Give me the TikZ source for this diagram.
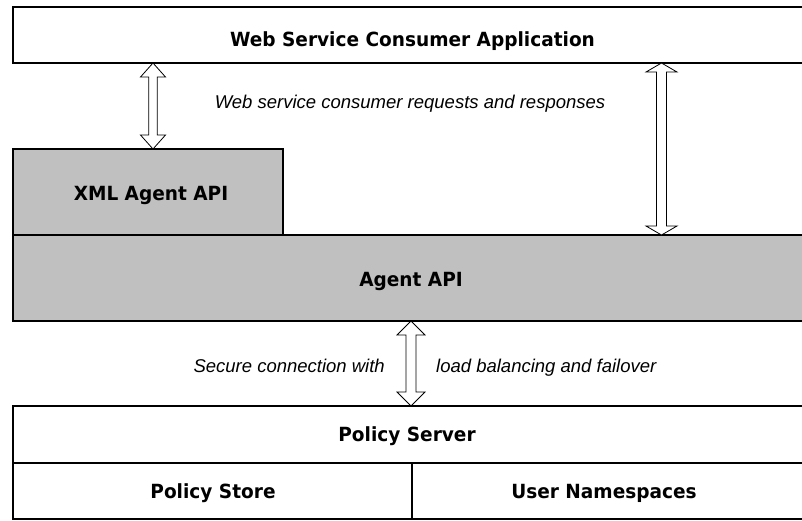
\documentclass[tikz,border=0pt]{standalone}
\usepackage{fontspec}
\usetikzlibrary{calc}
\newfontfamily\boxfont[FakeStretch=0.95]{DejaVu Sans}
\newfontfamily\labfont{Liberation Sans}
\definecolor{boxgray}{HTML}{C0C0C0}
\newcommand\dblarr[5]{%
\draw[arrsty] let \p1=(#1), \p2=(#2) in
 (\x1,\y1) -- (\x1+#4,\y1-#5) -- (\x1+#3,\y1-#5) -- (\x1+#3,\y2+#5) -- (\x1+#4,\y2+#5) -- (\x1,\y2)
 -- (\x1-#4,\y2+#5) -- (\x1-#3,\y2+#5) -- (\x1-#3,\y1-#5) -- (\x1-#4,\y1-#5) -- cycle;}
\begin{document}
\begin{tikzpicture}[x=1pt,y=-1pt,
  boxsty/.style={draw=black, line width=1.6pt, fill=white, rectangle, inner sep=0pt, outer sep=0pt, anchor=north west},
  graybox/.style={boxsty, fill=boxgray},
  boxtext/.style={font=\boxfont\bfseries\fontsize{19.5}{21}\selectfont, inner sep=0pt},
  labtext/.style={font=\labfont\itshape\fontsize{18.5}{20}\selectfont, inner sep=0pt},
  arrsty/.style={draw=black, line width=0.8pt, fill=white, line join=miter}]
\useasboundingbox (0,0) rectangle (802,520);
\clip (0,0) rectangle (802,520);
% boxes
\node[boxsty, minimum width=799pt, minimum height=56pt] (web) at (13,7) {};
\node[graybox, minimum width=270pt, minimum height=86pt] (xml) at (13,149) {};
\node[graybox, minimum width=799pt, minimum height=86pt] (agent) at (13,235) {};
\node[boxsty, minimum width=799pt, minimum height=57pt] (ps) at (13,406) {};
\node[boxsty, minimum width=399pt, minimum height=56pt] (store) at (13,463) {};
\node[boxsty, minimum width=400pt, minimum height=56pt] (user) at (412,463) {};
% texts
\node[boxtext, anchor=base] (tweb) at (412.5,46) {Web Service Consumer Application};
\node[boxtext, anchor=base] (txml) at (151,200) {XML Agent API};
\node[boxtext, anchor=base] (tagent) at (411,286) {Agent API};
\node[boxtext, anchor=base] (tps) at (407,441) {Policy Server};
\node[boxtext, anchor=base] (tstore) at (213,498) {Policy Store};
\node[boxtext, anchor=base] (tuser) at (604,498) {User Namespaces};
\node[labtext, anchor=base] (l1) at (410,108) {Web service consumer requests and responses};
\node[labtext, anchor=base east] (l2) at (385,372) {Secure connection with};
\node[labtext, anchor=base west] (l3) at (436,372) {load balancing and failover};
% arrows
\coordinate (x1) at (153,0);
\coordinate (x2) at (661.5,0);
\coordinate (x3) at (411,0);
\dblarr{web.south -| x1}{xml.north -| x1}{4.2pt}{12.5pt}{14pt}
\dblarr{web.south -| x2}{agent.north -| x2}{5pt}{15.5pt}{9pt}
\dblarr{agent.south -| x3}{ps.north -| x3}{5pt}{14pt}{14pt}
\end{tikzpicture}
\end{document}
